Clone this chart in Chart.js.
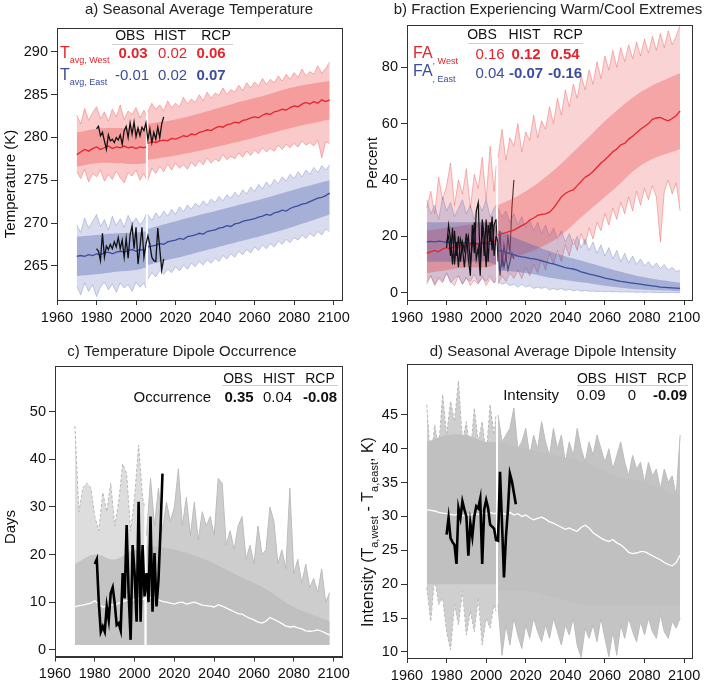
<!DOCTYPE html>
<html>
<head>
<meta charset="utf-8">
<script src="https://cdn.jsdelivr.net/npm/chart.js@4.4.1/dist/chart.umd.min.js"></script>
<style>
  html, body { margin: 0; padding: 0; background: #fff; }
  #wrap { position: relative; width: 709px; height: 682px; }
  canvas { position: absolute; }
</style>
</head>
<body>
<div id="wrap">
  <canvas id="pa" width="354" height="341" style="left:0px;top:0px"></canvas>
  <canvas id="pb" width="355" height="341" style="left:354px;top:0px"></canvas>
  <canvas id="pc" width="354" height="341" style="left:0px;top:341px"></canvas>
  <canvas id="pd" width="355" height="341" style="left:354px;top:341px"></canvas>
</div>
<script>
// years: historical runs (1970-2005), RCP runs (2006-2098), observations
const yrHist = [1970, 1972, 1974, 1976, 1978, 1980, 1982, 1984, 1986, 1988, 1990, 1992, 1994, 1996, 1998, 2000, 2002, 2004, 2005]
const yrRcp = [2006, 2008, 2010, 2012, 2014, 2016, 2018, 2020, 2022, 2024, 2026, 2028, 2030, 2032, 2034, 2036,
  2038, 2040, 2042, 2044, 2046, 2048, 2050, 2052, 2054, 2056, 2058, 2060, 2062, 2064, 2066, 2068, 2070, 2072,
  2074, 2076, 2078, 2080, 2082, 2084, 2086, 2088, 2090, 2092, 2094, 2096, 2098]
const coreYrHist = [1970, 1980, 1990, 2000, 2005]
const coreYrRcp = [2006, 2020, 2035, 2050, 2065, 2080, 2098]
const obsYr = [1980, 1981, 1982, 1983, 1984, 1985, 1986, 1987, 1988, 1989, 1990, 1991, 1992, 1993, 1994, 1995,
  1996, 1997, 1998, 1999, 2000, 2001, 2002, 2003, 2004, 2005, 2006, 2007, 2008, 2009, 2010, 2011, 2012, 2013, 2014]
const obsYrD = [1980, 1981, 1982, 1983, 1984, 1985, 1986, 1987, 1988, 1989, 1990, 1991, 1992, 1993, 1994, 1995,
  1996, 1997, 1998, 1999, 2000, 2001, 2002, 2003, 2004, 2005, 2006, 2007, 2008, 2009, 2010, 2011, 2012, 2013, 2014, 2015]

// a) seasonal average temperature (K)
const westMeanHist = [278.0, 278.3, 278.6, 278.4, 278.7, 278.9, 278.6, 278.8, 279.0, 278.7, 278.9, 278.8, 279.0, 278.8, 278.9, 278.7, 278.9, 278.8, 278.9]
const westMeanRcp = [279.3, 279.5, 279.4, 279.6, 279.7, 279.6, 279.9, 279.8, 280.0, 280.2, 280.1, 280.4, 280.3, 280.6, 280.7, 280.9,
  280.8, 281.1, 281.3, 281.2, 281.5, 281.6, 281.8, 281.7, 282.0, 282.1, 282.3, 282.4, 282.3, 282.6, 282.8, 282.7, 283.0, 283.1,
  283.3, 283.2, 283.5, 283.7, 283.6, 283.9, 284.1, 283.9, 284.2, 284.0, 284.4, 284.2, 284.4]
const westHiHist = [282.6, 281.6, 283.4, 282.0, 282.9, 283.6, 282.2, 283.0, 281.9, 283.3, 282.4, 283.8, 282.1, 283.1, 282.7, 283.5, 282.3, 283.2, 282.6]
const westLoHist = [276.0, 275.2, 276.3, 274.8, 275.8, 275.4, 276.2, 274.9, 275.7, 275.1, 276.1, 275.3, 274.7, 275.9, 275.5, 276.2, 275.0, 275.8, 275.2]
const westHiRcp = [283.0, 284.0, 283.3, 283.8, 283.1, 284.3, 283.5, 284.0, 283.6, 284.7, 283.9, 284.5, 284.1, 285.0, 284.3, 285.3,
  284.6, 285.2, 284.9, 285.8, 285.0, 285.6, 285.3, 286.1, 285.5, 286.4, 285.8, 286.5, 286.0, 286.9, 286.2, 286.8, 286.4, 287.2,
  286.6, 287.4, 286.8, 287.6, 287.0, 288.0, 287.2, 287.7, 287.4, 288.4, 287.5, 288.1, 288.8]
const westLoRcp = [275.0, 276.4, 275.8, 276.6, 276.0, 276.9, 276.2, 277.0, 276.4, 276.8, 276.3, 277.1, 276.6, 277.3, 276.8, 277.6,
  277.0, 277.5, 277.2, 278.0, 277.4, 277.8, 277.5, 278.2, 277.7, 278.4, 277.9, 278.5, 278.1, 278.8, 278.3, 278.7, 278.4, 279.1,
  278.6, 279.2, 278.8, 279.3, 278.9, 279.6, 279.1, 279.4, 279.0, 279.7, 277.6, 279.5, 279.3]
const westCoreHiHist = [280.6, 281.0, 281.1, 281.0, 281.0]
const westCoreLoHist = [276.6, 277.0, 277.0, 276.9, 277.0]
const westCoreHiRcp = [281.6, 282.1, 283.0, 284.0, 284.9, 285.9, 286.6]
const westCoreLoRcp = [277.4, 277.9, 278.6, 279.4, 280.3, 281.2, 282.1]

const eastMeanHist = [266.1, 266.2, 266.1, 266.3, 266.2, 266.4, 266.3, 266.5, 266.6, 266.4, 266.6, 266.7, 266.6, 266.8, 266.9, 266.7, 266.9, 266.8, 267.0]
const eastMeanRcp = [267.2, 267.3, 267.4, 267.6, 267.5, 267.8, 267.9, 268.0, 268.2, 268.1, 268.4, 268.5, 268.6, 268.8, 268.7, 269.0,
  269.1, 269.2, 269.4, 269.5, 269.7, 269.6, 269.9, 270.0, 270.2, 270.3, 270.4, 270.5, 270.7, 270.8, 271.0, 270.9, 271.2, 271.3,
  271.5, 271.4, 271.7, 271.9, 272.0, 272.2, 272.3, 272.5, 272.7, 272.9, 273.0, 273.2, 273.5]
const eastHiHist = [269.8, 268.9, 270.6, 269.4, 270.2, 271.0, 269.6, 270.4, 269.2, 270.8, 269.7, 270.5, 269.5, 270.9, 269.9, 270.6, 269.8, 270.4, 271.0]
const eastLoHist = [262.6, 261.6, 263.0, 262.0, 262.8, 261.4, 262.5, 263.1, 262.2, 262.9, 261.9, 263.0, 262.4, 262.8, 262.0, 263.1, 262.5, 263.0, 262.4]
const eastHiRcp = [271.0, 270.3, 271.2, 270.6, 271.4, 270.8, 271.6, 271.0, 271.9, 271.3, 272.1, 271.6, 272.3, 271.9, 272.6, 272.1,
  272.8, 272.4, 273.1, 272.6, 273.3, 272.9, 273.6, 273.1, 273.9, 273.4, 274.2, 273.7, 274.5, 274.0, 274.8, 274.3, 275.1, 274.6,
  275.4, 274.9, 275.7, 275.2, 276.0, 275.4, 276.2, 275.7, 276.5, 275.9, 276.7, 276.2, 276.8]
const eastLoRcp = [263.4, 264.2, 263.7, 264.5, 264.0, 264.6, 264.2, 264.9, 264.4, 265.1, 264.6, 265.3, 264.9, 265.5, 265.1, 265.7,
  265.3, 265.9, 265.5, 266.2, 265.8, 266.4, 266.0, 266.7, 266.3, 266.9, 266.5, 267.2, 266.8, 267.4, 267.0, 267.6, 267.2, 267.9,
  267.5, 268.1, 267.7, 268.3, 268.0, 268.6, 268.2, 268.8, 268.4, 269.0, 268.6, 269.3, 269.0]
const eastCoreHiHist = [268.4, 268.6, 268.8, 268.9, 269.0]
const eastCoreLoHist = [263.8, 264.0, 264.3, 264.5, 264.8]
const eastCoreHiRcp = [269.3, 270.2, 271.1, 272.0, 272.9, 273.9, 275.0]
const eastCoreLoRcp = [265.1, 265.9, 266.8, 267.7, 268.6, 269.6, 271.0]

const obsWestA = [281.0, 281.3, 280.2, 280.6, 279.6, 278.6, 280.3, 279.6, 279.8, 279.4, 280.0, 279.7, 280.3, 279.2, 280.8, 281.3,
  280.0, 281.7, 280.4, 281.8, 280.1, 281.1, 280.2, 281.2, 280.8, 281.7, 279.7, 281.0, 279.4, 280.6, 279.8, 281.2, 280.0, 281.6, 282.4]
const obsEastA = [267.0, 266.7, 265.6, 268.8, 266.0, 267.3, 266.9, 267.5, 267.0, 267.8, 267.2, 268.3, 267.0, 268.0, 266.0, 268.2,
  265.9, 268.6, 269.7, 267.0, 269.5, 265.2, 267.2, 269.5, 266.0, 267.5, 268.5, 267.5, 266.0, 265.6, 265.5, 269.4, 267.0, 264.5, 265.8]

// b) fraction experiencing warm/cool extremes (%)
const westBMeanHist = [14, 14.5, 15, 14.5, 15.5, 16, 15.5, 16.5, 16, 17, 16.5, 17, 17.5, 17, 18, 17.5, 18.5, 18, 19]
const westBMeanRcp = [20.5, 21.0, 21.3, 21.8, 22.2, 23.0, 23.8, 24.5, 25.8, 26.5, 27.4, 27.8, 28.0, 28.6, 30.0, 32.0,
  34.0, 35.2, 36.0, 36.5, 38.0, 39.5, 41.0, 41.8, 43.0, 44.5, 46.0, 47.2, 48.5, 50.0, 51.0, 52.5, 53.0, 54.5,
  55.5, 56.8, 58.0, 59.0, 60.0, 61.5, 62.0, 62.2, 61.5, 61.0, 61.8, 62.8, 64.5]
const westBHiHist = [30, 36, 28, 41, 33, 38, 46, 31, 40, 35, 44, 30, 42, 37, 48, 33, 52, 36, 45]
const westBLoHist = [3, 6, 2.5, 5, 3.5, 7, 4, 2.5, 6, 3, 5.5, 2.5, 4.5, 3, 6, 2.5, 5, 3.5, 4]
const westBHiRcp = [48, 58, 47, 55, 52, 60, 50, 57, 54, 63, 55, 61, 58, 66, 60, 69, 63, 72, 66, 74, 69, 77, 72, 79,
  74, 82, 76, 84, 79, 86, 80, 87, 82, 88, 83, 89, 84, 90, 85, 91, 86, 92, 87, 93, 88, 91, 95]
const westBLoRcp = [3, 6, 4, 7, 5, 8, 5, 9, 6, 10, 7, 12, 8, 14, 10, 15, 11, 17, 13, 19, 15, 21, 17, 23,
  19, 25, 22, 28, 24, 30, 26, 32, 28, 34, 29, 36, 31, 37, 33, 38, 34, 18, 36, 40, 35, 39, 29]
const westBCoreHiHist = [22, 23, 24, 25, 25]
const westBCoreLoHist = [7, 8, 9, 9, 10]
const westBCoreHiRcp = [31, 36, 44, 54, 64, 72, 78]
const westBCoreLoRcp = [11, 14, 19, 28, 37, 46, 51]

const eastBMeanHist = [18, 18.2, 18.0, 18.3, 18.1, 17.8, 18.0, 17.7, 17.9, 17.6, 17.8, 17.5, 17.7, 17.4, 17.6, 17.3, 17.4, 17.2, 17.0]
const eastBMeanRcp = [15.0, 14.8, 14.3, 13.8, 13.5, 13.0, 12.7, 12.5, 12.2, 12.0, 11.7, 11.3, 10.9, 10.5, 10.2, 9.8,
  9.3, 8.9, 8.6, 8.4, 8.0, 7.4, 7.0, 6.6, 6.3, 6.0, 5.6, 5.2, 4.9, 4.6, 4.3, 4.0, 3.8, 3.6,
  3.4, 3.2, 3.0, 2.8, 2.6, 2.4, 2.2, 2.0, 1.9, 1.8, 1.7, 1.6, 1.5]
const eastBHiHist = [33, 28, 31, 26, 34, 29, 32, 27, 30, 33, 28, 31, 26, 32, 29, 33, 27, 30, 31]
const eastBLoHist = [4, 6, 3, 5.5, 4, 7, 3.5, 5, 6, 3, 5, 4, 6.5, 3.5, 5, 4, 6, 3.5, 5]
const eastBHiRcp = [30, 27, 29, 25, 28, 24, 27, 23, 26, 22, 25, 21, 24, 20, 23, 19, 22, 18, 21, 17, 20, 16, 19, 15,
  18, 14, 17, 13, 16, 12, 15, 11, 14, 10.5, 13, 10, 12, 9.5, 11, 9, 10.5, 8.5, 10, 8, 9, 7.5, 8]
const eastBLoRcp = [4, 3, 3.5, 2.5, 3, 2, 3, 2, 2.5, 1.5, 2, 1.5, 2, 1, 1.5, 1, 1.5, 0.8, 1.2, 0.6, 1, 0.5, 0.8, 0.5,
  0.6, 0.4, 0.5, 0.3, 0.5, 0.3, 0.4, 0.2, 0.3, 0.2, 0.3, 0.1, 0.2, 0.1, 0.2, 0.1, 0.1, 0, 0.1, 0, 0.1, 0, 0]
const eastBCoreHiHist = [25, 25, 25, 25, 24]
const eastBCoreLoHist = [11, 11, 11, 11, 10]
const eastBCoreHiRcp = [22, 18, 14, 11, 8, 5.5, 3.5]
const eastBCoreLoRcp = [8, 7, 5, 3.5, 2, 1, 0.5]

const obsWestB = [16, 24, 19, 10, 22, 13, 20, 11, 18, 15, 21, 12, 6, 24, 14, 29, 32, 10, 24, 13, 26, 11, 25, 15, 24, 26,
  11, 22, 9, 17, 12, 20, 14, 30, 40]
const obsEastB = [18, 20, 13, 23, 10, 18, 9, 19, 16, 9, 17, 20, 10, 17, 25, 12, 16, 6, 26, 20, 9, 24, 18, 27, 13, 20,
  18, 6, 14, 9, 13, 8, 11, 14, 12]

// c) temperature dipole occurrence (days)
const cMeanHist = [9.0, 9.3, 9.4, 9.6, 9.8, 10.3, 9.6, 9.0, 9.2, 9.5, 9.4, 9.8, 10.1, 10.4, 10.2, 10.6, 10.8, 10.5, 10.8]
const cMeanRcp = [10.8, 10.9, 11.0, 10.5, 10.2, 10.0, 9.8, 9.6, 9.9, 10.0, 9.6, 9.8, 10.0, 9.7, 9.4, 9.3,
  9.2, 9.0, 9.5, 9.2, 8.8, 8.4, 8.0, 7.6, 7.5, 7.0, 6.6, 6.3, 5.8, 5.6, 6.0, 6.8, 6.4, 6.0,
  5.5, 5.0, 4.8, 4.9, 4.6, 4.4, 4.0, 3.9, 4.0, 4.2, 3.9, 3.5, 3.1]
const cHiHist = [47, 29, 34, 35, 34, 28, 25, 33, 29, 35, 26, 31, 39, 37, 25, 32, 43, 32, 30]
const cHiRcp = [24, 36, 26, 34, 25, 31, 27, 30, 38, 26, 32, 24, 31, 23, 29, 26, 28, 24, 36, 35, 22, 25, 21, 26,
  28, 19, 22, 18, 26, 20, 21, 30, 27, 18, 21, 17, 34, 16, 19, 14, 18, 13, 15, 12, 17, 10, 12]
const cCoreHist = [18, 20, 19, 21, 20]
const cCoreRcp = [22, 21, 19, 16, 13, 9, 6]
const obsC = [18.0, 19.0, 10.0, 3.8, 4.9, 3.8, 9.1, 6.3, 11.9, 13.1, 9.8, 5.2, 5.6, 4.1, 16.1, 10.8, 26.2, 11.9, 2.1, 22.0,
  16.1, 5.9, 31.1, 5.9, 22.0, 11.2, 16.1, 10.0, 28.0, 8.0, 20.3, 9.1, 14.7, 25.0, 37.0]

// d) seasonal average dipole intensity (K)
const dMeanHist = [31.0, 30.9, 30.8, 30.6, 30.5, 30.4, 30.3, 30.2, 30.4, 30.1, 30.3, 30.2, 30.4, 30.3, 30.5, 30.4, 30.6, 30.4, 30.5]
const dMeanRcp = [30.4, 30.5, 30.3, 30.6, 30.2, 30.4, 30.0, 30.2, 29.8, 29.5, 29.7, 29.9, 29.6, 29.2, 29.0, 28.7,
  28.4, 28.1, 28.3, 28.0, 27.8, 28.4, 28.7, 28.3, 27.6, 27.2, 26.8, 26.5, 26.3, 26.6, 26.1, 25.8, 25.3, 24.7,
  24.5, 24.6, 24.8, 24.8, 24.5, 24.2, 23.9, 23.6, 23.2, 22.9, 22.7, 23.2, 24.3]
const dHiHist = [46.5, 38, 43.5, 40, 48, 42, 47, 44, 50, 41, 44, 39, 46, 41, 44, 39, 46.5, 42, 45]
const dLoHist = [19.5, 14.5, 21, 17, 18, 13, 10.3, 17, 14, 19, 12.5, 16, 13, 18, 11, 15, 13.5, 17, 16]
const dHiRcp = [45, 41, 42, 43, 46, 40, 41, 43, 39, 42, 40, 44, 41, 39, 43, 40, 42, 38, 41, 39, 43, 40, 38, 41,
  39, 42, 40, 38, 40, 37, 39, 41, 38, 36, 39, 37, 38, 35, 38, 36, 37, 34, 37, 35, 36, 33, 42]
const dLoRcp = [17, 9.5, 14, 11, 15, 12.5, 10.5, 14, 12, 15, 13, 11.5, 14, 12, 15, 13, 11, 14, 12.5, 15, 11, 9.2, 13.5, 12,
  14, 11.5, 15, 12, 9.3, 13, 9.5, 14, 12, 15, 13, 11.5, 14.5, 12.5, 15, 13, 12, 15.5, 13, 12, 14.5, 13.5, 15]
const dCoreHiHist = [41, 42, 42, 41, 41]
const dCoreLoHist = [20, 20, 20, 20, 20]
const dCoreHiRcp = [41, 40, 39, 38, 36, 35, 33]
const dCoreLoRcp = [19, 19, 18, 17, 17, 17, 17]
const obsD = [27.3, 29.8, 26.8, 26.2, 25.8, 23.0, 31.2, 29.8, 32.2, 31.0, 30.0, 24.2, 29.0, 27.0, 30.0, 31.5, 31.2, 32.6,
  23.0, 31.0, 32.4, 31.2, 28.8, 28.5, 28.2, 26.5, 26.4, 36.6, 29.0, 21.0, 27.0, 31.0, 36.3, 35.2, 33.5, 31.8]

const FAM = 'Arial, "Liberation Sans", Helvetica, sans-serif'
const RED = '#e4252b'
const BLUE = '#3a4d9f'
const NONE = 'rgba(0,0,0,0)'
Chart.defaults.font.family = FAM

const pts = (xs, ys) => xs.map((x, i) => ({ x, y: ys[i] }))

function line(xs, ys, color, width, order, dash) {
  return { data: pts(xs, ys), borderColor: color, borderWidth: width, pointRadius: 0, fill: false, order, tension: 0, borderDash: dash || [] }
}

// pair of datasets, the first one filled down to the second
function band(xs, hi, lo, fillCol, edgeCol, edgeW, order, tension, dash) {
  const base = { pointRadius: 0, borderColor: edgeCol, borderWidth: edgeW, order, tension: tension || 0, borderDash: dash || [] }
  return [
    Object.assign({ data: pts(xs, hi), backgroundColor: fillCol, fill: '+1' }, base),
    Object.assign({ data: pts(xs, lo), fill: false }, base)
  ]
}

function area(xs, ys, fillCol, edgeCol, edgeW, order, tension, dash, floor) {
  return { data: pts(xs, ys), backgroundColor: fillCol, fill: { value: floor }, pointRadius: 0, borderColor: edgeCol,
    borderWidth: edgeW, order, tension: tension || 0, borderDash: dash || [] }
}

function xAxis(h) {
  return {
    type: 'linear', min: 1960, max: 2104,
    ticks: { stepSize: 20, includeBounds: false, autoSkip: false, maxRotation: 0, color: '#111', font: { size: 14.5 }, padding: 4, callback: v => v },
    grid: { drawOnChartArea: false, tickLength: 5, color: '#333' },
    border: { color: '#333' },
    afterFit: s => { s.height = h }
  }
}

function yAxis(min, max, step, w, top) {
  return {
    min, max,
    ticks: { stepSize: step, includeBounds: false, color: '#111', font: { size: 14.5 }, padding: 3, callback: v => v },
    grid: { drawOnChartArea: false, tickLength: 6, color: '#333' },
    border: { color: '#333' },
    afterBuildTicks: s => { s.ticks = s.ticks.filter(t => t.value <= top) },
    afterFit: s => { s.width = w }
  }
}

function drawRuns(ctx, sp) {
  const main = (sp.bold ? 'bold ' : '') + sp.size + 'px ' + FAM
  const subF = (sp.subSize || 9) + 'px ' + FAM
  let total = 0
  for (const r of sp.runs) { ctx.font = r.sub ? subF : main; total += ctx.measureText(r.t).width }
  let x0 = sp.align === 'center' ? -total / 2 : sp.align === 'right' ? -total : 0
  ctx.save()
  ctx.translate(sp.x, sp.y)
  if (sp.rot) ctx.rotate(-Math.PI / 2)
  ctx.fillStyle = sp.color || '#111'
  ctx.textAlign = 'left'
  ctx.textBaseline = 'alphabetic'
  const dy = sp.rot ? sp.size * 0.36 : 0
  for (const r of sp.runs) {
    ctx.font = r.sub ? subF : main
    ctx.fillText(r.t, x0, dy + (r.sub ? (sp.subDy || 5) : 0))
    x0 += ctx.measureText(r.t).width
  }
  ctx.restore()
}

const T = (t, x, y, size, extra) => Object.assign({ runs: [{ t }], x, y, size, align: 'center' }, extra || {})

// box, titles, axis titles and the small trend tables
const decor = {
  id: 'decor',
  afterDraw(chart, args, o) {
    const ctx = chart.ctx
    const a = chart.chartArea
    ctx.save()
    ctx.strokeStyle = '#333'
    ctx.lineWidth = 1
    ctx.strokeRect(Math.round(a.left) + 0.5, Math.round(a.top) + 0.5, Math.round(a.right - a.left), Math.round(a.bottom - a.top))
    ctx.translate(-o.ox, -o.oy)
    if (o.rule) {
      ctx.strokeStyle = '#cfcfcf'
      ctx.beginPath()
      ctx.moveTo(o.rule[0], o.rule[2] + 0.5)
      ctx.lineTo(o.rule[1], o.rule[2] + 0.5)
      ctx.stroke()
    }
    for (const t of o.texts) drawRuns(ctx, t)
    ctx.restore()
  }
}
Chart.register(decor)

function makeChart(id, datasets, xs, ys, pad, decorOpts) {
  return new Chart(document.getElementById(id), {
    type: 'line',
    data: { datasets },
    options: {
      responsive: false, animation: false, devicePixelRatio: 1,
      layout: { padding: pad },
      scales: { x: xs, y: ys },
      plugins: { legend: { display: false }, tooltip: { enabled: false }, decor: decorOpts }
    }
  })
}

// ---- panel a
const redOuter = 'rgba(238, 80, 80, 0.3)'
const redEdge = 'rgba(238, 80, 80, 0.4)'
const redCore = 'rgba(232, 50, 50, 0.3)'
const blueOuter = 'rgba(90, 110, 185, 0.24)'
const blueEdge = 'rgba(90, 110, 185, 0.32)'
const blueCore = 'rgba(62, 82, 165, 0.32)'

makeChart('pa', [
  line(obsYr, obsWestA, '#111', 1.3, 1),
  line(obsYr, obsEastA, '#111', 1.3, 1),
  line(yrHist, westMeanHist, RED, 1.3, 2),
  line(yrRcp, westMeanRcp, RED, 1.3, 2),
  line(yrHist, eastMeanHist, BLUE, 1.3, 2),
  line(yrRcp, eastMeanRcp, BLUE, 1.3, 2),
  ...band(coreYrHist, westCoreHiHist, westCoreLoHist, redCore, NONE, 0, 4, 0.4),
  ...band(coreYrRcp, westCoreHiRcp, westCoreLoRcp, redCore, NONE, 0, 4, 0.4),
  ...band(coreYrHist, eastCoreHiHist, eastCoreLoHist, blueCore, NONE, 0, 4, 0.4),
  ...band(coreYrRcp, eastCoreHiRcp, eastCoreLoRcp, blueCore, NONE, 0, 4, 0.4),
  ...band(yrHist, westHiHist, westLoHist, redOuter, redEdge, 1, 5),
  ...band(yrRcp, westHiRcp, westLoRcp, redOuter, redEdge, 1, 5),
  ...band(yrHist, eastHiHist, eastLoHist, blueOuter, blueEdge, 1, 5),
  ...band(yrRcp, eastHiRcp, eastLoRcp, blueOuter, blueEdge, 1, 5)
], xAxis(41), yAxis(261, 292.8, 5, 57, 290), { top: 28, right: 9, bottom: 0, left: 0 }, {
  ox: 0, oy: 0, rule: [112, 233, 44],
  texts: [
    T('a) Seasonal Average Temperature', 199, 14, 15, { color: '#222' }),
    T('Temperature (K)', 10, 184, 15, { rot: true }),
    T('OBS', 130, 40, 14), T('HIST', 170, 40, 14), T('RCP', 216, 40, 14),
    { runs: [{ t: 'T' }, { t: 'avg, West', sub: true }], x: 60, y: 58, size: 16, subSize: 9, subDy: 5, color: RED, align: 'left' },
    T('0.03', 133, 58, 15, { bold: true, color: RED }), T('0.02', 172.5, 58, 15, { color: RED }), T('0.06', 211, 58, 15, { bold: true, color: RED }),
    { runs: [{ t: 'T' }, { t: 'avg, East', sub: true }], x: 60, y: 80, size: 16, subSize: 9, subDy: 5, color: BLUE, align: 'left' },
    T('-0.01', 132, 80, 15, { color: BLUE }), T('0.02', 172.5, 80, 15, { color: BLUE }), T('0.07', 211, 80, 15, { bold: true, color: BLUE })
  ]
})

// ---- panel b
const obsSplit = 26
makeChart('pb', [
  line(obsYr.slice(0, obsSplit), obsWestB.slice(0, obsSplit), '#111', 1.2, 1),
  line(obsYr.slice(0, obsSplit), obsEastB.slice(0, obsSplit), '#111', 1.2, 1),
  line(yrHist, eastBMeanHist, BLUE, 1.3, 2),
  line(yrRcp, eastBMeanRcp, BLUE, 1.3, 2),
  line(yrHist, westBMeanHist, RED, 1.3, 3),
  line(yrRcp, westBMeanRcp, RED, 1.3, 2),
  ...band(coreYrHist, eastBCoreHiHist, eastBCoreLoHist, blueCore, NONE, 0, 4, 0.4),
  ...band(coreYrRcp, eastBCoreHiRcp, eastBCoreLoRcp, blueCore, NONE, 0, 4, 0.4),
  ...band(coreYrHist, westBCoreHiHist, westBCoreLoHist, redCore, NONE, 0, 4, 0.4),
  ...band(coreYrRcp, westBCoreHiRcp, westBCoreLoRcp, 'rgba(232, 55, 55, 0.3)', NONE, 0, 4, 0.4),
  ...band(yrHist, eastBHiHist, eastBLoHist, blueOuter, blueEdge, 1, 5),
  ...band(yrRcp, eastBHiRcp, eastBLoRcp, blueOuter, blueEdge, 1, 5),
  ...band(yrHist, westBHiHist, westBLoHist, 'rgba(236, 75, 75, 0.22)', redEdge, 1, 5),
  ...band(yrRcp, westBHiRcp, westBLoRcp, 'rgba(236, 75, 75, 0.24)', redEdge, 1, 5),
  line(obsYr.slice(obsSplit - 1), obsWestB.slice(obsSplit - 1), '#222', 1.1, 6),
  line(obsYr.slice(obsSplit - 1), obsEastB.slice(obsSplit - 1), '#222', 1.1, 6)
], xAxis(41), yAxis(-2.6, 95, 20, 53, 80), { top: 25, right: 17, bottom: 0, left: 0 }, {
  ox: 354, oy: 0, rule: [468, 583, 43],
  texts: [
    T('b) Fraction Experiencing Warm/Cool Extremes', 548, 14, 15, { color: '#222' }),
    T('Percent', 372, 163, 15, { rot: true }),
    T('OBS', 482, 39, 14), T('HIST', 524.5, 39, 14), T('RCP', 568, 39, 14),
    { runs: [{ t: 'FA' }, { t: ', West', sub: true }], x: 413, y: 58, size: 16, subSize: 9, subDy: 6, color: RED, align: 'left' },
    T('0.16', 490, 59, 15, { color: RED }), T('0.12', 526, 59, 15, { bold: true, color: RED }), T('0.54', 565, 59, 15, { bold: true, color: RED }),
    { runs: [{ t: 'FA' }, { t: ', East', sub: true }], x: 413, y: 76, size: 16, subSize: 9, subDy: 6, color: BLUE, align: 'left' },
    T('0.04', 490, 78, 15, { color: BLUE }), T('-0.07', 526, 78, 15, { bold: true, color: BLUE }), T('-0.16', 565, 78, 15, { bold: true, color: BLUE })
  ]
})

// ---- panel c
makeChart('pc', [
  line(obsYr, obsC, '#000', 2.6, 1),
  line(yrHist, cMeanHist, '#fff', 1.3, 2),
  line(yrRcp, cMeanRcp, '#fff', 1.3, 2),
  area(coreYrHist, cCoreHist, 'rgba(188, 188, 188, 0.75)', NONE, 0, 4, 0.4, null, 1),
  area(coreYrRcp, cCoreRcp, '#c0c0c0', NONE, 0, 4, 0.4, null, 1),
  area(yrHist, cHiHist, 'rgba(188, 188, 188, 0.5)', '#b8b8b8', 1, 5, 0, [3, 2], 1),
  area(yrRcp, cHiRcp, 'rgba(188, 188, 188, 0.75)', '#bcbcbc', 1, 5, 0, null, 1)
], xAxis(25.5), yAxis(-1.4, 59.6, 10, 55, 50), { top: 25, right: 9, bottom: 0, left: 0 }, {
  ox: 0, oy: 341, rule: [222, 338, 385],
  texts: [
    T('c) Temperature Dipole Occurrence', 182, 356, 15, { color: '#222' }),
    T('Days', 10, 527, 15, { rot: true }),
    T('OBS', 238, 382.5, 14), T('HIST', 279, 382.5, 14), T('RCP', 320, 382.5, 14),
    T('Occurrence', 211, 401.5, 15, { align: 'right' }),
    T('0.35', 239, 401.5, 15, { bold: true }), T('0.04', 277.5, 401.5, 15), T('-0.08', 320, 401.5, 15, { bold: true })
  ]
})

// ---- panel d
makeChart('pd', [
  line(obsYrD, obsD, '#000', 2.6, 1),
  line(yrHist, dMeanHist, '#fff', 1.3, 2),
  line(yrRcp, dMeanRcp, '#fff', 1.3, 2),
  ...band(coreYrHist, dCoreHiHist, dCoreLoHist, '#c0c0c0', NONE, 0, 4, 0.4),
  ...band(coreYrRcp, dCoreHiRcp, dCoreLoRcp, '#c0c0c0', NONE, 0, 4, 0.4),
  ...band(yrHist, dHiHist, dLoHist, 'rgba(188, 188, 188, 0.72)', '#b8b8b8', 1, 5, 0, [3, 2]),
  ...band(yrRcp, dHiRcp, dLoRcp, 'rgba(188, 188, 188, 0.88)', '#bcbcbc', 1, 5)
], xAxis(24), yAxis(9.1, 52.5, 5, 53, 45), { top: 23, right: 17, bottom: 0, left: 0 }, {
  ox: 354, oy: 341, rule: [577, 688, 385],
  texts: [
    T('d) Seasonal Average Dipole Intensity', 553, 356, 15, { color: '#222' }),
    { runs: [{ t: 'Intensity (T' }, { t: 'a,west', sub: true }, { t: ' - T' }, { t: 'a,east', sub: true }, { t: ', K)' }],
      x: 367, y: 532, size: 16, subSize: 11, subDy: 5, rot: true, align: 'center' },
    T('OBS', 591.7, 382.5, 14), T('HIST', 630.8, 382.5, 14), T('RCP', 671.7, 382.5, 14),
    T('Intensity', 559, 399.5, 15, { align: 'right' }),
    T('0.09', 591, 399.5, 15), T('0', 632, 399.5, 15), T('-0.09', 670, 399.5, 15, { bold: true })
  ]
})
</script>
</body>
</html>
